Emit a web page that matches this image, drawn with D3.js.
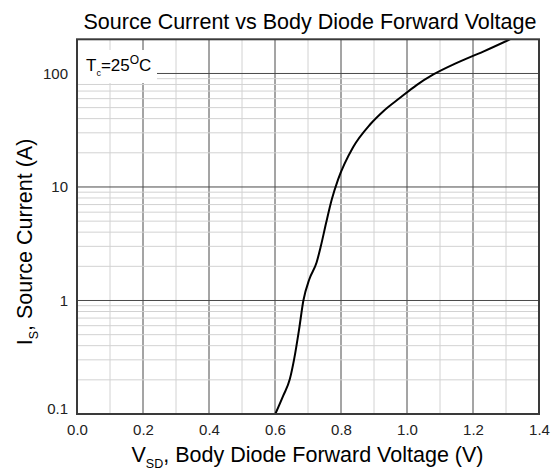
<!DOCTYPE html>
<html>
<head>
<meta charset="utf-8">
<script src="https://cdn.jsdelivr.net/npm/d3@7"></script>
<style>
  html, body { margin: 0; padding: 0; background: #fff; }
  svg { display: block; font-family: "Liberation Sans", Arial, Helvetica, sans-serif; }
</style>
</head>
<body>
<svg id="chart" width="552" height="471"></svg>
<script>
// ---- data ----
const voltage = [0.601, 0.625, 0.645, 0.658, 0.673, 0.686, 0.704, 0.726, 0.739, 0.755, 0.772, 0.791, 0.837, 0.888, 0.930, 0.979, 1.029, 1.080, 1.151, 1.231, 1.312];
const current = [0.1, 0.145, 0.203, 0.304, 0.557, 1.0, 1.54, 2.16, 3.02, 4.84, 7.75, 11.6, 22.5, 35.5, 47, 61, 79, 98, 124, 156, 200];
const xTickValues = [0.0, 0.2, 0.4, 0.6, 0.8, 1.0, 1.2, 1.4];
const xTickLabels = ["0.0", "0.2", "0.4", "0.6", "0.8", "1.0", "1.2", "1.4"];
const yTickValues = [0.1, 1, 10, 100];
const yTickLabels = ["0.1", "1", "10", "100"];
const xDomain = [0, 1.4];
const yDomain = [0.1, 200];
const titleText = "Source Current vs Body Diode Forward Voltage";

// ---- layout ----
const svg = d3.select("#chart");
const pLeft = 77, pRight = 539, pTop = 39.3, pBottom = 414;

const x = d3.scaleLinear().domain(xDomain).range([pLeft, pRight]);
const y = d3.scaleLog().domain(yDomain).range([pBottom, pTop]);

// ---- grid ----
const grid = svg.append("g");
const xMinor = d3.range(1, 14).map(i => i / 10);
grid.selectAll(".vx").data(xMinor).enter().append("line")
  .attr("x1", d => x(d)).attr("x2", d => x(d))
  .attr("y1", pTop).attr("y2", pBottom)
  .attr("stroke", d => (Math.round(d * 10) % 2 === 0) ? "#4a4a4a" : "#d2d2d2")
  .attr("stroke-width", 1);

const yMinor = [];
[0.1, 1, 10, 100].forEach(dec => {
  for (let m = 2; m <= 9; m++) { const v = dec * m; if (v < yDomain[1]) yMinor.push(v); }
});
grid.selectAll(".hy").data(yMinor).enter().append("line")
  .attr("x1", pLeft).attr("x2", pRight)
  .attr("y1", d => y(d)).attr("y2", d => y(d))
  .attr("stroke", "#d2d2d2").attr("stroke-width", 1);
grid.selectAll(".hY").data(yTickValues.slice(1)).enter().append("line")
  .attr("x1", pLeft).attr("x2", pRight)
  .attr("y1", d => y(d)).attr("y2", d => y(d))
  .attr("stroke", "#4a4a4a").attr("stroke-width", 1);

// ---- annotation background ----
svg.append("rect").attr("x", pLeft).attr("y", 50).attr("width", 80).attr("height", 33).attr("fill", "#fff");

// ---- curve ----
svg.append("clipPath").attr("id", "clip").append("rect")
  .attr("x", pLeft).attr("y", pTop).attr("width", pRight - pLeft).attr("height", pBottom - pTop);
const pts = voltage.map((v, i) => [v, current[i]]);
svg.append("path")
  .datum(pts)
  .attr("clip-path", "url(#clip)")
  .attr("fill", "none").attr("stroke", "#000").attr("stroke-width", 2)
  .attr("stroke-linejoin", "round")
  .attr("d", d3.line().x(d => x(d[0])).y(d => y(d[1])).curve(d3.curveMonotoneX));

// ---- frame ----
svg.append("rect").attr("x", pLeft).attr("y", pTop).attr("width", pRight - pLeft).attr("height", pBottom - pTop)
  .attr("fill", "none").attr("stroke", "#3a3a3a").attr("stroke-width", 2);

// ---- axes ----
const xAxis = d3.axisBottom(x).tickValues(xTickValues)
  .tickFormat((d, i) => xTickLabels[i]).tickSize(0).tickPadding(10.5);
const gx = svg.append("g").attr("transform", `translate(0,${pBottom})`).call(xAxis);
gx.select(".domain").remove();
gx.selectAll("text").attr("font-size", 15).attr("fill", "#222")
  .attr("font-family", "'Liberation Sans', Arial, sans-serif");

const yAxis = d3.axisLeft(y).tickValues(yTickValues)
  .tickFormat((d, i) => yTickLabels[i]).tickSize(0).tickPadding(9);
const gy = svg.append("g").attr("transform", `translate(${pLeft},0)`).call(yAxis);
gy.select(".domain").remove();
gy.selectAll("text").attr("font-size", 15).attr("fill", "#222")
  .attr("font-family", "'Liberation Sans', Arial, sans-serif")
  .attr("dy", (d) => d === 0.1 ? "-0.05em" : "0.32em");

// ---- title ----
svg.append("text").attr("x", 310).attr("y", 29).attr("text-anchor", "middle")
  .attr("font-size", 21.5).attr("fill", "#000").text(titleText);

// ---- x label ----
const xl = svg.append("text").attr("x", 307.5).attr("y", 461.5).attr("text-anchor", "middle")
  .attr("font-size", 21.5).attr("fill", "#000");
xl.append("tspan").text("V");
xl.append("tspan").attr("font-size", 12.5).attr("dy", 6).text("SD");
xl.append("tspan").attr("dy", -6).text(", Body Diode Forward Voltage (V)");

// ---- y label ----
const yl = svg.append("text").attr("transform", "translate(32,242) rotate(-90)")
  .attr("text-anchor", "middle").attr("font-size", 21.5).attr("fill", "#000");
yl.append("tspan").text("I");
yl.append("tspan").attr("font-size", 12.5).attr("dy", 6).text("S");
yl.append("tspan").attr("dy", -6).text(", Source Current (A)");

// ---- annotation ----
const ann = svg.append("text").attr("x", 86).attr("y", 71).attr("font-size", 17).attr("fill", "#000");
ann.append("tspan").text("T");
ann.append("tspan").attr("font-size", 9).attr("dy", 5).text("c");
ann.append("tspan").attr("dy", -5).text("=25");
ann.append("tspan").attr("font-size", 12).attr("dy", -7).text("O");
ann.append("tspan").attr("dy", 7).text("C");
</script>
</body>
</html>
